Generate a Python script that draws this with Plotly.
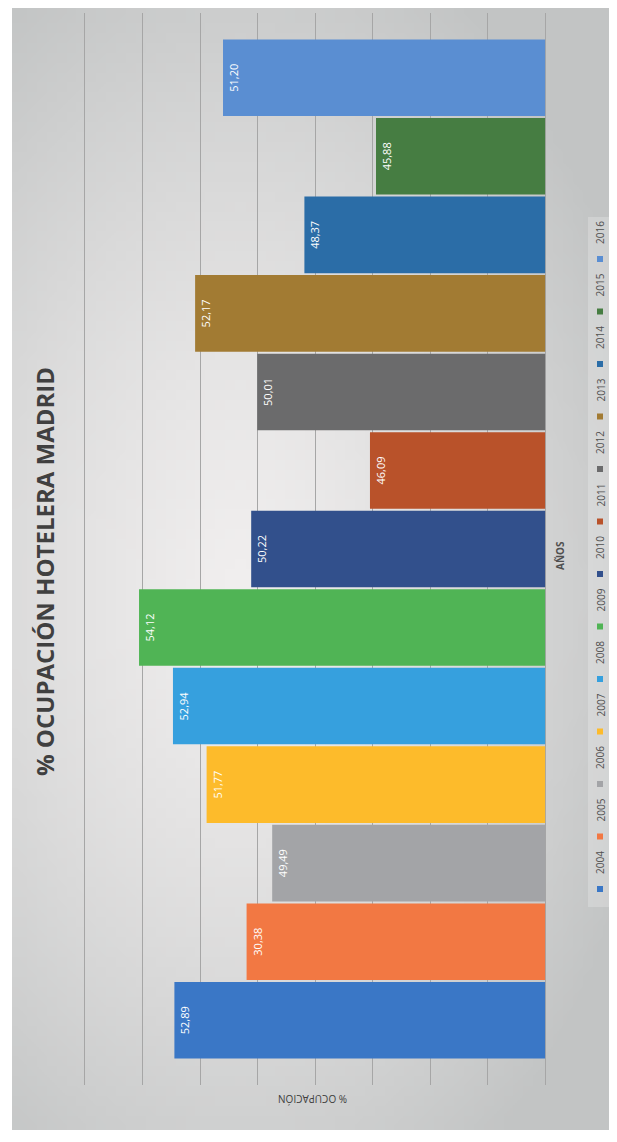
import base64, struct, zlib
import numpy as np
import plotly.graph_objects as go

# ---------------- data ----------------
years = ["2004", "2005", "2006", "2007", "2008", "2009", "2010",
         "2011", "2012", "2013", "2014", "2015", "2016"]
occupancy = [52.89, 50.38, 49.49, 51.77, 52.94, 54.12, 50.22,
             46.09, 50.01, 52.17, 48.37, 45.88, 51.20]
value_labels = ["52,89", "30,38", "49,49", "51,77", "52,94", "54,12", "50,22",
                "46,09", "50,01", "52,17", "48,37", "45,88", "51,20"]
colors = ["#3A77C6", "#F27843", "#A3A4A7", "#FDBB2B", "#36A0DE", "#50B455",
          "#32508C", "#B9522A", "#6B6B6C", "#A27B33", "#2B6DA7", "#467D42",
          "#5A8ED2"]
category = ["AÑOS"]
axis_base = 40

# page offset of the plot div (default body margin)
OFF = 8
W, H = 617 - OFF, 1142 - OFF
# plot area in page pixels: x 70..548, y 13..1085
L, R, T, B = 70 - OFF, W - (548 - OFF), 13 - OFF, H - (1085 - OFF)
PW, PH = W - L - R, H - T - B


def xp(px):
    return (px - OFF - L) / PW


def yp(py):
    return (H - B - (py - OFF)) / PH


# ---------------- background gradient image ----------------
def png_uri(arr):
    h, w, _ = arr.shape
    raw = b"".join(b"\x00" + arr[i].tobytes() for i in range(h))

    def chunk(tag, data):
        c = struct.pack(">I", len(data)) + tag + data
        return c + struct.pack(">I", zlib.crc32(tag + data) & 0xFFFFFFFF)

    png = (b"\x89PNG\r\n\x1a\n"
           + chunk(b"IHDR", struct.pack(">IIBBBBB", w, h, 8, 2, 0, 0, 0))
           + chunk(b"IDAT", zlib.compress(raw, 9))
           + chunk(b"IEND", b""))
    return "data:image/png;base64," + base64.b64encode(png).decode()


gw, gh = 61, 113
gx = (np.arange(gw) + 0.5) / gw * 605 + 12
gy = (np.arange(gh) + 0.5) / gh * 1122 + 8
XX, YY = np.meshgrid(gx, gy)
rr = np.sqrt(((XX - 240) / 430) ** 2 + ((YY - 590) / 700) ** 2)
rr = np.clip(rr, 0, 1) ** 1.3
c_in = np.array([241, 239, 239], float)
c_out = np.array([194, 196, 196], float)
img = (c_in[None, None, :] * (1 - rr[..., None]) + c_out[None, None, :] * rr[..., None])
img = np.clip(img, 0, 255).astype(np.uint8)
bg_uri = png_uri(img)

# ---------------- figure ----------------
fig = go.Figure()
for yr, val, lab, col in zip(years, occupancy, value_labels, colors):
    fig.add_trace(go.Bar(
        name=yr, y=category, x=[val - axis_base], base=[axis_base],
        orientation="h", marker=dict(color=col, line=dict(width=0)),
        text=[lab], textposition="inside", insidetextanchor="end",
        textangle=-90, constraintext="none",
        textfont=dict(color="white", size=11, family="Open Sans"),
        showlegend=False,
    ))


def note(text, x, y, angle, size, color, **kw):
    return dict(text=text, x=xp(x), y=yp(y), xref="paper", yref="paper",
                xanchor="center", yanchor="middle", showarrow=False,
                textangle=angle, font=dict(size=size, color=color,
                                           family="Open Sans"), **kw)


annotations = [
    note("<b>% OCUPACIÓN HOTELERA MADRID</b>", 45, 572, -90, 24, "#404040"),
    note("<b>AÑOS</b>", 560, 556, -90, 10, "#505050"),
    note("% OCUPACIÓN", 313, 1099, 180, 10, "#404040"),
]
shapes = [
    dict(type="rect", xref="paper", yref="paper", x0=xp(588), x1=xp(612),
         y0=yp(907), y1=yp(217), fillcolor="rgba(255,255,255,0.22)",
         line=dict(width=0), layer="below"),
]
step = 52.5
for i, (yr, col) in enumerate(zip(years, colors)):
    cy = 863 - i * step
    annotations.append(note(yr, 600, cy, -90, 10, "#505050"))
    sy = cy + 26
    shapes.append(dict(type="rect", xref="paper", yref="paper",
                       x0=xp(597), x1=xp(603), y0=yp(sy + 3), y1=yp(sy - 3),
                       fillcolor=col, line=dict(width=0)))

fig.update_layout(
    width=W, height=H,
    margin=dict(l=L, r=R, t=T, b=B, pad=0),
    paper_bgcolor="white", plot_bgcolor="rgba(0,0,0,0)",
    barmode="group", bargap=0.0476, bargroupgap=0.025,
    xaxis=dict(range=[56.52, 39.9], tick0=40, dtick=2, showgrid=True,
               gridcolor="#A6A6A6", gridwidth=1, showticklabels=False,
               zeroline=False, showline=False, ticks=""),
    yaxis=dict(showticklabels=False, showgrid=False, zeroline=False,
               showline=False, ticks=""),
    annotations=annotations, shapes=shapes,
    images=[dict(source=bg_uri, xref="paper", yref="paper",
                 x=xp(12), y=yp(8), sizex=605 / PW, sizey=1122 / PH,
                 xanchor="left", yanchor="top", sizing="stretch",
                 layer="below")],
)

fig.write_html("out.html")
